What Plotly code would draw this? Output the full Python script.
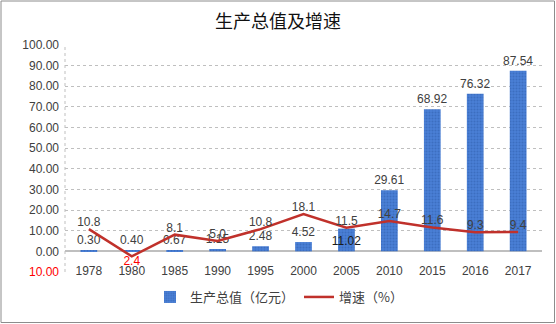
import plotly.graph_objects as go

years = ["1978", "1980", "1985", "1990", "1995", "2000", "2005", "2010", "2015", "2016", "2017"]
output_value = [0.30, 0.40, 0.67, 1.15, 2.48, 4.52, 11.02, 29.61, 68.92, 76.32, 87.54]
growth_rate = [10.8, -2.4, 8.1, 5.0, 10.8, 18.1, 11.5, 14.7, 11.6, 9.3, 9.4]
y_ticks = [-10, 0, 10, 20, 30, 40, 50, 60, 70, 80, 90, 100]

W, H = 556, 324
L, R, T, B = 65, 14, 45, 52
pw = W - L - R
ph = H - T - B

num_font = "Liberation Sans, Arial, sans-serif"
cjk_font = "Noto Sans CJK SC, sans-serif"
txt_col = "#404040"
red = "#FF0000"

def fmt_tick(v):
    s = f"{abs(v):.2f}"
    return f"<span style='color:{red}'>{s}</span>" if v < 0 else s

# Excel placed the 2005 bar label at the bar base (bar lower than line there)
bar_pos = ["inside" if (output_value[i] > 10 and output_value[i] < growth_rate[i]) else "outside"
           for i in range(len(output_value))]

fig = go.Figure()
fig.add_trace(go.Bar(
    x=years, y=output_value, name="生产总值（亿元）",
    width=0.39,
    marker=dict(color="#4A7FD2", line=dict(width=0),
                pattern=dict(shape=".", fgcolor="#2E5CAA", bgcolor="#4A80D6", size=3, solidity=0.4)),
    text=[f"{v:.2f}" for v in output_value],
    textposition=bar_pos,
    textangle=0,
    insidetextanchor="start",
    constraintext="none",
    textfont=dict(family=num_font, size=12, color=txt_col),
    insidetextfont=dict(family=num_font, size=12, color="#1a1a1a"),
    outsidetextfont=dict(family=num_font, size=12, color=txt_col),
    cliponaxis=False,
))
fig.add_trace(go.Scatter(
    x=years, y=growth_rate, name="增速（%）",
    mode="lines+text",
    line=dict(color="#C0312B", width=2.5),
    text=[f"{abs(v):.1f}" for v in growth_rate],
    textposition=["bottom center" if v < 0 else "top center" for v in growth_rate],
    textfont=dict(family=num_font, size=12, color=[red if v < 0 else txt_col for v in growth_rate]),
    cliponaxis=False,
))

fig.update_layout(
    width=W, height=H,
    margin=dict(l=L, r=R, t=T, b=B),
    paper_bgcolor="white", plot_bgcolor="white",
    title=dict(text="生产总值及增速", x=0.5, xanchor="center", y=1 - 22 / H, yanchor="middle",
               font=dict(family=cjk_font, size=18, color="#111111")),
    showlegend=True,
    legend=dict(orientation="h", x=(150 - L) / pw, xanchor="left", y=(H - B - 297) / ph, yanchor="middle",
                font=dict(family=cjk_font, size=13, color=txt_col), bgcolor="rgba(0,0,0,0)",
                itemwidth=30, tracegroupgap=0, traceorder="normal"),
    font=dict(family=num_font, size=12, color=txt_col),
    bargap=0.6,
)
fig.update_xaxes(
    type="category", showgrid=False, zeroline=False, showline=False,
    ticks="", tickfont=dict(family=num_font, size=12, color=txt_col),
    ticklabelstandoff=-10,
)
fig.update_yaxes(
    range=[-10, 100], tickvals=y_ticks, ticktext=[fmt_tick(v) for v in y_ticks],
    showgrid=True, gridcolor="#BFBFBF", griddash="dot", gridwidth=1,
    zeroline=True, zerolinecolor="#BFBFBF", zerolinewidth=2,
    showline=False, ticks="", tickfont=dict(family=num_font, size=12, color=txt_col),
    ticklabelstandoff=5,
)
# plot-area left border (dotted)
fig.add_shape(type="line", xref="paper", yref="paper", x0=0, x1=0, y0=0, y1=1,
              line=dict(color="#BFBFBF", width=1, dash="dot"), layer="below")
# outer chart border
fig.add_shape(type="rect", xref="paper", yref="paper",
              x0=(-L + 1) / pw, x1=1 + (R - 1.5) / pw, y0=(-B + 1.5) / ph, y1=1 + (T - 1) / ph,
              line=dict(color="#8C8C8C", width=1), fillcolor="rgba(0,0,0,0)", layer="below")

fig.write_html("out.html")
